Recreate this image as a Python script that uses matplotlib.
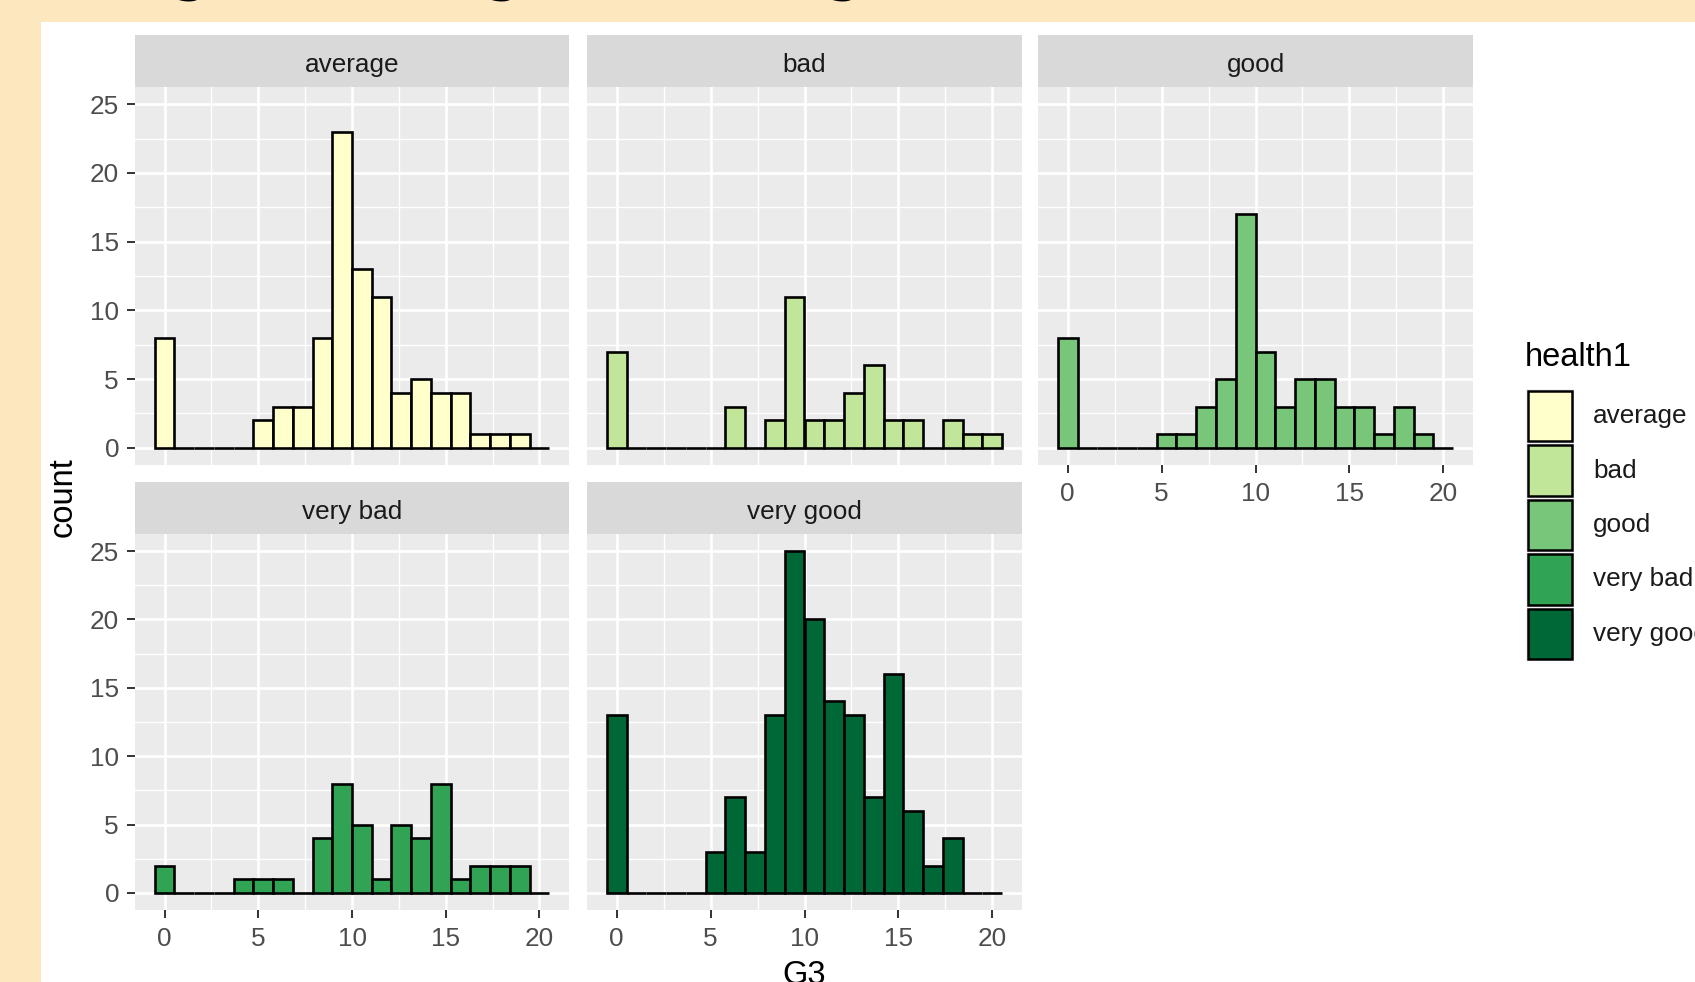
import numpy as np
import matplotlib
matplotlib.use("Agg")
import matplotlib.pyplot as plt
from matplotlib.patches import Rectangle

# ---------------- data ----------------
levels = ["average", "bad", "good", "very bad", "very good"]
colors = ["#FFFFCC", "#C2E699", "#78C679", "#31A354", "#006837"]
avg_counts = [8, 0, 0, 0, 0, 2, 3, 3, 8, 23, 13, 11, 4, 5, 4, 4, 1, 1, 1, 0]
bad_counts = [7, 0, 0, 0, 0, 0, 3, 0, 2, 11, 2, 2, 4, 6, 2, 2, 0, 2, 1, 1]
good_counts = [8, 0, 0, 0, 0, 1, 1, 3, 5, 17, 7, 3, 5, 5, 3, 3, 1, 3, 1, 0]
verybad_counts = [2, 0, 0, 0, 1, 1, 1, 0, 4, 8, 5, 1, 5, 4, 8, 1, 2, 2, 2, 0]
verygood_counts = [13, 0, 0, 0, 0, 3, 7, 3, 13, 25, 20, 14, 13, 7, 16, 6, 2, 4, 0, 0]
counts = [avg_counts, bad_counts, good_counts, verybad_counts, verygood_counts]
g3_min, g3_max, n_bins = 0, 20, 20
x_ticks = [0, 5, 10, 15, 20]
y_ticks = [0, 5, 10, 15, 20, 25]
title_text = "Histogram of G3 grades among health levels"

# ---------------- layout ----------------
W, H = 1695, 982
fig = plt.figure(figsize=(W / 100, H / 100), dpi=100)
fig.patch.set_facecolor("#FDE7BE")
fig.patches.append(Rectangle((41 / W, 0), 1 - 41 / W, 1 - 22 / H, transform=fig.transFigure,
                             facecolor="white", edgecolor="none", zorder=-10))

FONT = "Liberation Sans"
SMALL = 18.8
BIG = 23.5


def px_axes(x0, y0, x1, y1, **kw):
    return fig.add_axes([x0 / W, 1 - y1 / H, (x1 - x0) / W, (y1 - y0) / H], **kw)


bw = (g3_max - g3_min) / (n_bins - 1)
centers = g3_min + bw * np.arange(n_bins)
lo, hi = g3_min - bw / 2, g3_max + bw / 2
pad = 0.05 * (hi - lo)
ymax = 25
col_x = [(135, 569), (587, 1022), (1038, 1473)]
rows = [(35, 87, 465), (482, 534, 910)]
positions = [(0, 0), (0, 1), (0, 2), (1, 0), (1, 1)]

for i, lvl in enumerate(levels):
    r, c = positions[i]
    x0, x1 = col_x[c]
    s0, p0, p1 = rows[r]
    # strip
    sax = px_axes(x0, s0, x1, p0)
    sax.set_facecolor("#D9D9D9")
    sax.set_xticks([]); sax.set_yticks([])
    for sp in sax.spines.values():
        sp.set_visible(False)
    sax.text(0.5, 0.47, lvl, ha="center", va="center_baseline", fontsize=SMALL, family=FONT,
             color="#1A1A1A", transform=sax.transAxes)
    # panel
    ax = px_axes(x0, p0, x1, p1)
    ax.set_facecolor("#EBEBEB")
    for sp in ax.spines.values():
        sp.set_visible(False)
    ax.set_xlim(lo - pad, hi + pad)
    ax.set_ylim(-0.05 * ymax, ymax * 1.05)
    ax.set_xticks(x_ticks)
    ax.set_yticks(y_ticks)
    ax.set_xticks([2.5, 7.5, 12.5, 17.5], minor=True)
    ax.set_yticks([2.5, 7.5, 12.5, 17.5, 22.5], minor=True)
    ax.grid(which="major", color="white", linewidth=1.9)
    ax.grid(which="minor", color="white", linewidth=0.95)
    ax.set_axisbelow(True)
    ax.bar(centers, counts[i], width=bw, color=colors[i], edgecolor="black",
           linewidth=1.9, zorder=3)
    ax.tick_params(which="minor", length=0)
    show_x = (r == 1) or (c == 2)
    show_y = (c == 0)
    ax.tick_params(axis="x", which="major", length=6 if show_x else 0, width=1.4,
                   color="#333333", pad=6.5, labelsize=SMALL, labelcolor="#4D4D4D",
                   labelbottom=show_x)
    ax.tick_params(axis="y", which="major", length=6 if show_y else 0, width=1.4,
                   color="#333333", pad=5.5, labelsize=SMALL, labelcolor="#4D4D4D",
                   labelleft=show_y)
    for lab in ax.get_xticklabels() + ax.get_yticklabels():
        lab.set_family(FONT)

# axis titles
fig.text(63 / W, 1 - 497 / H, "count", rotation=90, ha="center", va="center",
         fontsize=BIG, family=FONT, color="black")
fig.text(804 / W, 1 - 960 / H, "G3", ha="center", va="top", fontsize=BIG,
         family=FONT, color="black")

# legend
fig.text(1525 / W, 1 - 358 / H, "health1", ha="left", va="center", fontsize=BIG,
         family=FONT, color="black")
key_top, key_h = 389, 54.4
for i, lvl in enumerate(levels):
    ty = key_top + i * key_h
    fig.patches.append(Rectangle((1526 / W, 1 - (ty + key_h) / H), 48 / W, key_h / H,
                                 transform=fig.transFigure, facecolor="#F2F2F2",
                                 edgecolor="none", zorder=2))
    fig.patches.append(Rectangle((1528 / W, 1 - (ty + key_h - 2) / H), 44 / W, (key_h - 4) / H,
                                 transform=fig.transFigure, facecolor=colors[i],
                                 edgecolor="black", linewidth=1.8, zorder=3))
    fig.text(1593 / W, 1 - (ty + key_h / 2) / H, lvl, ha="left", va="center",
             fontsize=SMALL, family=FONT, color="#1A1A1A")

# title, mostly cut off by the top edge (only descenders remain visible)
fig.text(32 / W, 1 + 9 / H, title_text, ha="left", va="baseline", fontsize=34,
         family="DejaVu Serif", fontweight="bold", color="black")

fig.savefig("out.png", dpi=100, facecolor=fig.get_facecolor())
